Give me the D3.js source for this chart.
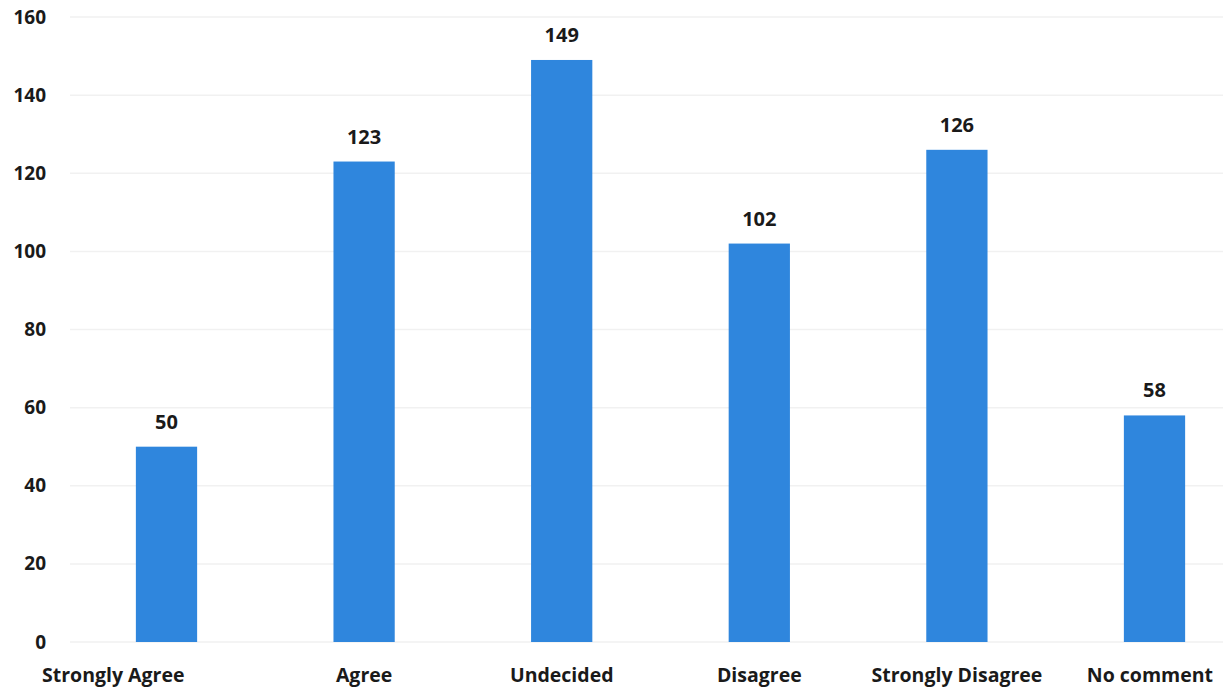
<!DOCTYPE html>
<html><head><meta charset="utf-8">
<script src="https://cdn.jsdelivr.net/npm/d3@7"></script>
<style>
body{margin:0;background:#fff;}
text{font-family:"Open Sans","Noto Sans",sans-serif;font-weight:700;fill:#1a1a1a;}
</style></head>
<body><svg id="c" width="1223" height="692"></svg>
<script>
const categories = ["Strongly Agree","Agree","Undecided","Disagree","Strongly Disagree","No comment"];
const values = [50,123,149,102,126,58];
const yTicks = [0,20,40,60,80,100,120,140,160];

const svg = d3.select("#c");
const x = d3.scaleBand().domain(categories).range([67.7,1253.3]).paddingInner(0.69).paddingOuter(0.345);
const y = d3.scaleLinear().domain([0,160]).range([642,17]);

// gridlines
svg.append("g").selectAll("line").data(yTicks).join("line")
  .attr("x1",70).attr("x2",1223)
  .attr("y1",d=>y(d)).attr("y2",d=>y(d))
  .attr("stroke","#f1f1f1").attr("stroke-width",1.5);

// y axis
const ya = svg.append("g").attr("transform","translate(46,0)")
  .call(d3.axisLeft(y).tickValues(yTicks).tickSize(0).tickPadding(0));
ya.select(".domain").remove();
ya.selectAll("text").style("font-size","19px").style("font-family","'Open Sans',sans-serif").style("font-weight","700").attr("fill","#1a1a1a");

// bars
svg.append("g").selectAll("rect").data(values).join("rect")
  .attr("x",(d,i)=>x(categories[i]))
  .attr("width",x.bandwidth())
  .attr("y",d=>y(d))
  .attr("height",d=>y(0)-y(d))
  .attr("fill","#2f86dd");

// value labels
svg.append("g").selectAll("text").data(values).join("text")
  .attr("x",(d,i)=>x(categories[i])+x.bandwidth()/2)
  .attr("y",d=>y(d)-18)
  .attr("text-anchor","middle")
  .style("font-size","20px")
  .text(d=>d);

// x axis
const xa = svg.append("g").attr("transform","translate(0,642)")
  .call(d3.axisBottom(x).tickSize(0).tickPadding(26));
xa.select(".domain").remove();
xa.selectAll("text").style("font-size","19.5px").style("font-family","'Open Sans',sans-serif").style("font-weight","700").attr("fill","#1a1a1a");
// first label starts at the left edge, last label ends at the right edge, as in the reference
const ticks = xa.selectAll(".tick").nodes();
ticks.forEach((node,i)=>{
  const t = d3.select(node).select("text");
  const b = node.getBBox();
  const tx = x(categories[i]) + x.bandwidth()/2;
  const left = tx + b.x, right = tx + b.x + b.width;
  if (i === 0) t.attr("dx", 42 - left);
  else if (right > 1213) t.attr("dx", 1213 - right);
});
</script></body></html>
